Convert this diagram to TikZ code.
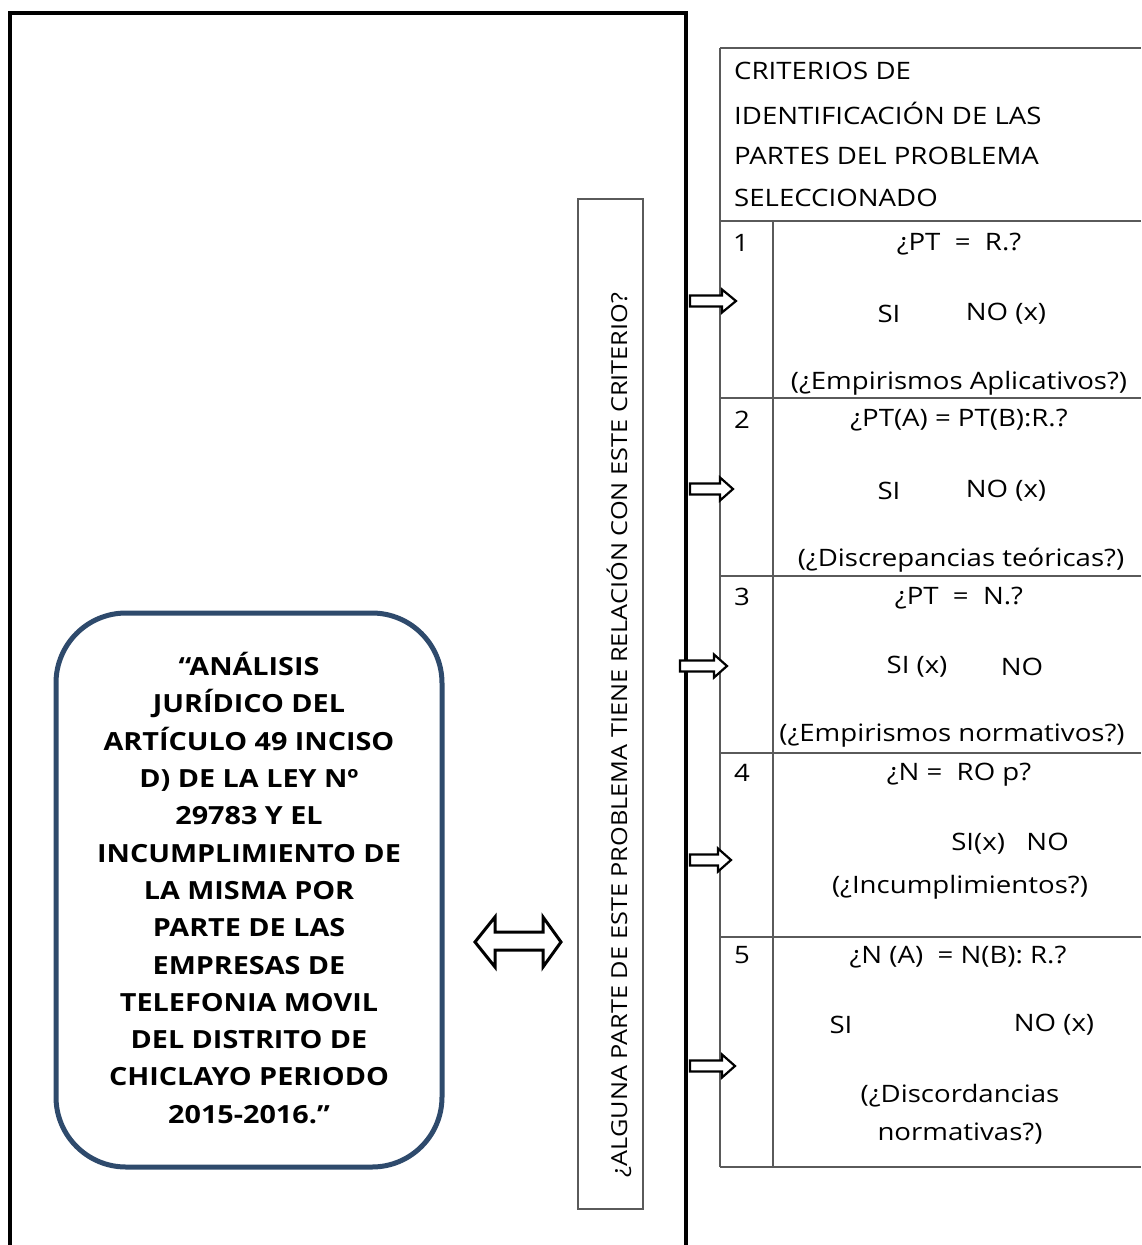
\documentclass[tikz,border=0pt]{standalone}
\usepackage{fontspec}
\setmainfont{Open Sans}[FakeStretch=1.15]
\definecolor{boxblue}{RGB}{46,74,108}
\definecolor{rule}{RGB}{90,90,90}
\tikzset{
  tx/.style={font=\fontsize{24}{28}\selectfont, inner sep=0pt},
  bt/.style={font=\fontsize{25}{37.3}\selectfont\bfseries, align=center, inner sep=0pt},
  gridline/.style={draw=rule, line width=1.2pt},
  blockarrow/.style={draw=black, line width=2.2pt, fill=white, line join=miter},
  frame/.style={draw=black, line width=4.5pt},
}
\begin{document}
\begin{tikzpicture}[x=1pt,y=-1pt]
\useasboundingbox (0,0) rectangle (1141,1245);
% big frame
\coordinate (fTL) at (10,13);
\coordinate (fTR) at (686,13);
\coordinate (fBL) at (10,1245);
\coordinate (fBR) at (686,1245);
\draw[frame] (fBL) -- (fTL) -- (fTR) -- (fBR);

% rounded title box
\node[draw=boxblue, line width=5pt, rounded corners=70pt, minimum width=386pt, minimum height=554pt, inner sep=0pt] (title) at (249,890) {};
\node[bt] (titletext) at (249,888) {“ANÁLISIS\\JURÍDICO DEL\\ARTÍCULO 49 INCISO\\D) DE LA LEY Nº\\29783 Y EL\\INCUMPLIMIENTO DE\\LA MISMA POR\\PARTE DE LAS\\EMPRESAS DE\\TELEFONIA MOVIL\\DEL DISTRITO DE\\CHICLAYO PERIODO\\2015-2016.”};

% double arrow
\draw[blockarrow, line width=3pt] (475,942) -- (495,917) -- (495,932) -- (543,932) -- (543,917) -- (561,942) -- (543,967) -- (543,950) -- (495,950) -- (495,967) -- cycle;

% vertical question box
\node[draw=rule, line width=1.2pt, minimum width=65pt, minimum height=1010pt, inner sep=0pt] (qbox) at (610.5,704) {};
\node[tx, rotate=90, font=\fontsize{22}{26}\selectfont] (qtext) at (619,735) {¿ALGUNA PARTE DE ESTE PROBLEMA TIENE RELACIÓN CON ESTE CRITERIO?};

% table
\coordinate (t0) at (720,48);
\draw[gridline] (720,48) -- (1141,48);
\draw[gridline] (720,221) -- (1141,221);
\draw[gridline] (720,398) -- (1141,398);
\draw[gridline] (720,576) -- (1141,576);
\draw[gridline] (720,753) -- (1141,753);
\draw[gridline] (720,937) -- (1141,937);
\draw[gridline] (720,1167) -- (1141,1167);
\draw[gridline] (720,48) -- (720,1167);
\draw[gridline] (773,221) -- (773,1167);

% header
\node[tx, anchor=west] (h1) at (734,71) {CRITERIOS DE};
\node[tx, anchor=west] (h2) at (734,113) {IDENTIFICACIÓN DE LAS};
\node[tx, anchor=west] (h3) at (734,156) {PARTES DEL PROBLEMA};
\node[tx, anchor=west] (h4) at (734,198) {SELECCIONADO};

% row 1
\node[tx] (n1) at (741,243) {1};
\node[tx] (r1a) at (959,244) {¿PT \ = \ R.?};
\node[tx] (r1si) at (889,314) {SI};
\node[tx] (r1no) at (1006,314) {NO (x)};
\node[tx] (r1c) at (959,383) {(¿Empirismos Aplicativos?)};
% row 2
\node[tx] (n2) at (742,420) {2};
\node[tx] (r2a) at (959,420) {¿PT(A) = PT(B):R.?};
\node[tx] (r2si) at (889,491) {SI};
\node[tx] (r2no) at (1006,491) {NO (x)};
\node[tx] (r2c) at (961,560) {(¿Discrepancias teóricas?)};
% row 3
\node[tx] (n3) at (742,597) {3};
\node[tx] (r3a) at (959,598) {¿PT \ = \ N.?};
\node[tx] (r3si) at (917,667) {SI (x)};
\node[tx] (r3no) at (1022,667) {NO};
\node[tx] (r3c) at (952,736) {(¿Empirismos normativos?)};
% row 4
\node[tx] (n4) at (742,773) {4};
\node[tx] (r4a) at (959,775) {¿N = \ RO p?};
\node[tx] (r4s) at (1010,844) {SI(x) \ \ NO};
\node[tx] (r4c) at (960,887) {(¿Incumplimientos?)};
% row 5
\node[tx] (n5) at (742,955) {5};
\node[tx] (r5a) at (958,957) {¿N (A) \ = N(B): R.?};
\node[tx] (r5si) at (841,1025) {SI};
\node[tx] (r5no) at (1054,1025) {NO (x)};
\node[tx] (r5c) at (960,1096) {(¿Discordancias};
\node[tx] (r5d) at (960,1134) {normativas?)};

% small block arrows
\foreach \yy/\xs/\xh/\xt in {301/690/722/736, 489/690/720/733, 666/680/714/727, 860/690/718/731, 1066/690/722/735}{
  \draw[blockarrow] (\xs,\yy-5.5) -- (\xh,\yy-5.5) -- (\xh,\yy-11.5) -- (\xt,\yy) -- (\xh,\yy+11.5) -- (\xh,\yy+5.5) -- (\xs,\yy+5.5) -- cycle;
}
\end{tikzpicture}
\end{document}
